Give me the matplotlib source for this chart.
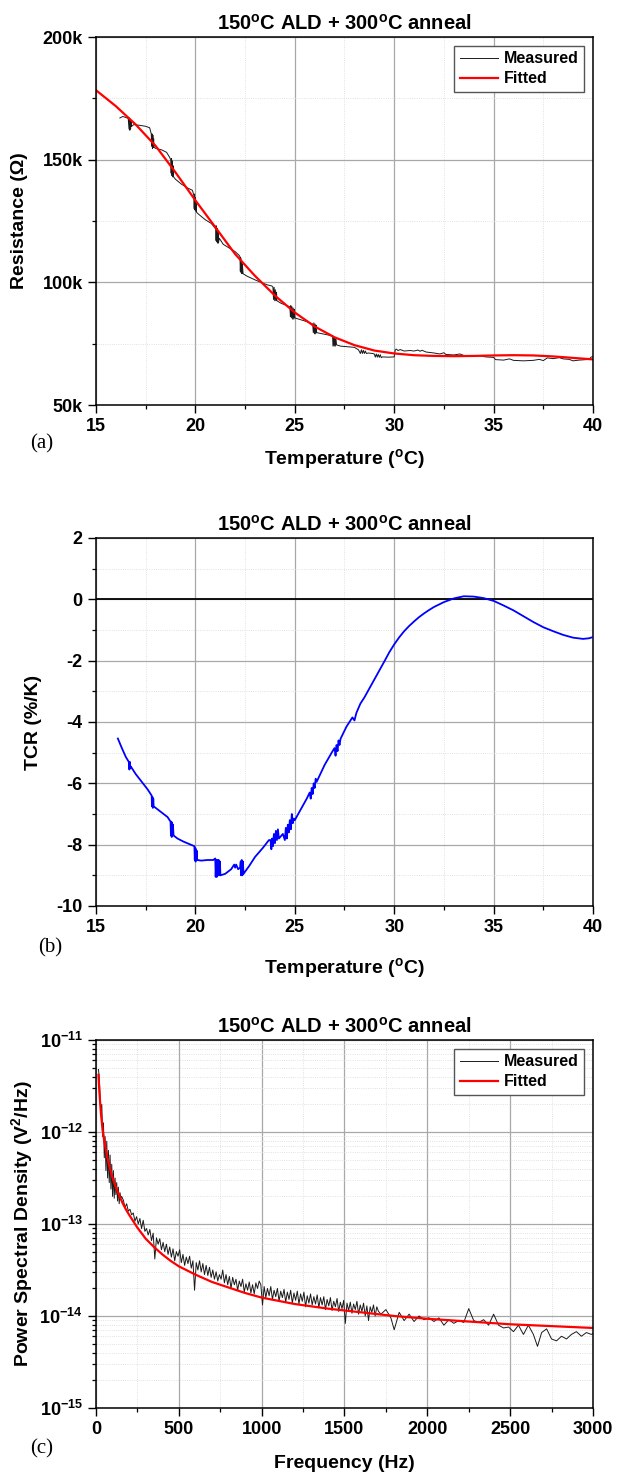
import numpy as np
import matplotlib
matplotlib.use("Agg")
import matplotlib.pyplot as plt
from matplotlib.ticker import MultipleLocator, FuncFormatter, LogLocator, NullFormatter

# ---------------- (a) resistance vs temperature ----------------
t_fit = [15, 16, 17, 18, 19, 20, 21, 22, 23, 24, 25, 26, 27, 28, 29, 30,
         31, 32, 33, 34, 35, 36, 37, 38, 39, 40]
r_fit = [178.3, 171.8, 164.3, 155.6, 144.8, 133.4, 122.5, 111.5, 102.6, 94.6,
         87.7, 82.0, 77.6, 74.4, 72.2, 71.0, 70.3, 70.0, 69.9, 70.0,
         70.2, 70.3, 70.2, 69.8, 69.2, 68.6]

t_meas = [16.2, 16.35, 16.5, 16.62, 16.66, 16.68, 16.7, 16.72, 16.74, 16.76, 16.78,
          16.9, 17.2, 17.5, 17.7, 17.78, 17.8, 17.82, 17.84, 17.86, 17.88, 17.9, 17.92,
          18.0, 18.3, 18.55, 18.7, 18.76, 18.78, 18.8, 18.82, 18.84, 18.86, 18.88, 18.9,
          19.0, 19.3, 19.6, 19.85, 19.92, 19.94, 19.96, 19.98, 20.0, 20.02, 20.04, 20.06,
          20.2, 20.5, 20.8, 21.0, 21.02, 21.04, 21.06, 21.08, 21.1, 21.12, 21.14, 21.16, 21.2,
          21.4, 21.7, 22.0, 22.2, 22.24, 22.26, 22.28, 22.3, 22.32, 22.34, 22.36, 22.4,
          22.6, 23.0, 23.3, 23.6, 23.85, 23.9, 23.93, 23.96, 23.99, 24.02, 24.05, 24.08, 24.1,
          24.3, 24.6, 24.75, 24.78, 24.8, 24.83, 24.86, 24.89, 24.92, 24.95, 24.98, 25.0,
          25.2, 25.6, 25.9, 25.93, 25.96, 25.99, 26.02, 26.05, 26.08, 26.1,
          26.4, 26.7, 26.9, 26.92, 26.95, 26.98, 27.01, 27.04, 27.07, 27.1,
          27.3, 27.6, 28.0, 28.2, 28.3, 28.35, 28.4, 28.45, 28.5, 28.55, 28.6, 28.7,
          28.9, 29.0, 29.05, 29.1, 29.15, 29.2, 29.25, 29.3, 29.35, 29.4, 29.7, 30.0,
          30.05, 30.1, 30.2, 30.3, 30.5, 30.8, 31.0, 31.2, 31.3, 31.4, 31.6, 32.0, 32.3,
          32.5, 32.6, 33.0, 33.3, 33.5, 34.0, 34.3, 34.6, 35.0, 35.1, 35.5, 35.8, 36.0,
          36.5, 37.0, 37.3, 37.5, 37.7, 38.0, 38.3, 38.5, 38.8, 39.0, 39.3, 39.5, 39.8,
          39.9, 40.0]
r_meas = [167.0, 167.6, 167.2, 166.8, 162.5, 167.0, 162.0, 166.5, 162.5, 166.0, 163.5,
          164.3, 164.0, 163.6, 163.0, 160.5, 155.5, 160.5, 154.5, 160.0, 155.0, 158.5, 155.0,
          154.6, 154.0, 153.0, 151.0, 150.0, 144.5, 150.5, 143.5, 149.5, 143.0, 147.5, 143.0,
          142.0, 140.0, 138.5, 137.5, 135.5, 130.0, 136.0, 129.5, 134.5, 129.0, 133.0, 128.5,
          127.5, 125.5, 124.0, 122.0, 123.0, 117.0, 123.0, 116.5, 122.0, 116.0, 121.0, 116.0, 118.0,
          115.5, 114.0, 112.5, 111.0, 110.5, 104.5, 110.0, 104.0, 109.0, 103.5, 107.5, 103.5,
          102.5, 101.0, 100.0, 99.0, 98.5, 98.0, 93.0, 98.0, 92.5, 97.0, 92.5, 96.0, 92.5,
          91.5, 90.5, 90.0, 86.0, 90.5, 85.5, 90.0, 85.0, 89.5, 85.0, 89.0, 85.5,
          85.0, 84.0, 83.0, 79.5, 83.5, 79.0, 83.0, 79.0, 82.5, 79.5,
          79.0, 78.5, 78.0, 74.0, 78.0, 74.0, 77.5, 74.0, 77.0, 74.5,
          74.0, 73.8, 73.5, 72.5, 71.0, 72.5, 71.0, 72.3, 71.0, 72.0, 71.0, 71.2,
          71.0, 70.8, 69.5, 70.8, 69.5, 70.6, 69.4, 70.5, 69.3, 69.6, 69.5, 69.6,
          72.3, 72.8, 72.2, 72.6, 72.0, 72.2, 72.0, 72.4, 71.9, 72.3, 71.6, 71.2, 70.8,
          71.3, 70.6, 70.4, 70.8, 70.2, 69.8, 70.1, 69.6, 69.4, 68.5, 68.3, 68.8, 68.2,
          68.0, 68.2, 68.6, 68.1, 69.2, 68.9, 69.3, 68.8, 68.6, 68.0, 68.3, 68.4, 68.6,
          69.5, 69.8]

# ---------------- (b) TCR vs temperature ----------------
t_tcr = [16.1, 16.3, 16.5, 16.65, 16.68, 16.7, 16.72, 16.75, 17.0, 17.3, 17.6, 17.8,
         17.82, 17.84, 17.86, 17.88, 17.9, 18.0, 18.3, 18.6, 18.75,
         18.77, 18.79, 18.81, 18.83, 18.85, 18.87, 18.9, 19.1, 19.4, 19.7, 19.95,
         19.97, 19.99, 20.01, 20.03, 20.05, 20.07, 20.09, 20.3, 20.6, 20.9, 21.0,
         21.02, 21.05, 21.08, 21.11, 21.14, 21.17, 21.2, 21.23, 21.26,
         21.5, 21.8, 21.95, 22.0, 22.05, 22.15, 22.25,
         22.28, 22.3, 22.33, 22.36, 22.39, 22.42, 22.7, 23.0, 23.4, 23.7,
         23.78, 23.82, 23.86, 23.9, 23.95, 24.0, 24.05, 24.1, 24.15, 24.2,
         24.4, 24.5, 24.55, 24.6, 24.65, 24.7, 24.75, 24.8, 24.85, 24.9, 24.95, 25.0,
         25.3, 25.6, 25.75, 25.8, 25.85, 25.9, 25.95, 26.0, 26.05, 26.1,
         26.5, 26.9, 27.0, 27.05, 27.1, 27.15, 27.2, 27.25, 27.3,
         27.6, 27.9, 28.0, 28.1, 28.3, 28.5, 28.8, 29.0, 29.25, 29.5, 29.75, 30.0,
         30.25, 30.5, 30.75, 31.0, 31.25, 31.5, 31.75, 32.0, 32.5, 33.0, 33.5, 34.0,
         34.5, 35.0, 35.5, 36.0, 36.5, 37.0, 37.5, 38.0, 38.5, 39.0, 39.5, 39.8, 40.0]
tcr = [-4.54, -4.85, -5.14, -5.3, -5.55, -5.3, -5.5, -5.45, -5.7, -5.95, -6.2, -6.4,
       -6.75, -6.45, -6.8, -6.5, -6.75, -6.8, -6.95, -7.1, -7.25,
       -7.7, -7.25, -7.75, -7.3, -7.7, -7.35, -7.7, -7.8, -7.9, -7.98, -8.05,
       -8.5, -8.1, -8.55, -8.15, -8.5, -8.2, -8.5, -8.52, -8.5, -8.5, -8.45,
       -9.05, -8.5, -9.05, -8.5, -9.0, -8.5, -9.0, -8.55, -9.0,
       -8.95, -8.8, -8.65, -8.75, -8.65, -8.8, -8.75,
       -8.55, -9.0, -8.5, -9.0, -8.55, -8.95, -8.7, -8.4, -8.1, -7.85,
       -7.85, -8.15, -7.8, -8.05, -7.65, -7.95, -7.55, -7.85, -7.5, -7.8,
       -7.65, -7.85, -7.45, -7.8, -7.35, -7.6, -7.2, -7.5, -7.0, -7.3, -7.15, -7.2,
       -6.85, -6.5, -6.3, -6.5, -6.15, -6.35, -6.0, -6.15, -5.85, -5.95,
       -5.4, -4.95, -4.85, -5.1, -4.75, -4.95, -4.6, -4.75, -4.55,
       -4.15, -3.85, -3.95, -3.7, -3.4, -3.2, -2.85, -2.62, -2.33, -2.03, -1.73, -1.47,
       -1.24, -1.04, -0.87, -0.72, -0.58, -0.46, -0.35, -0.25, -0.09, 0.03, 0.1, 0.09,
       0.04, -0.05, -0.2, -0.36, -0.55, -0.74, -0.91, -1.04, -1.16, -1.25, -1.29,
       -1.27, -1.23]

# ---------------- (c) noise PSD ----------------
f_fit = [15, 20, 25, 30, 40, 50, 60, 70, 80, 100, 120, 140, 160, 180, 200, 250,
         300, 350, 400, 450, 500, 600, 700, 800, 900, 1000, 1200, 1400, 1600, 1800,
         2000, 2250, 2500, 2750, 3000]
psd_fit_exp = [-11.38, -11.55, -11.68, -11.8, -11.98, -12.1, -12.2, -12.29, -12.37,
               -12.5, -12.6, -12.69, -12.77, -12.84, -12.9, -13.04, -13.16, -13.25,
               -13.33, -13.4, -13.46, -13.55, -13.63, -13.69, -13.75, -13.8, -13.87,
               -13.92, -13.96, -14.0, -14.03, -14.06, -14.09, -14.11, -14.13]

f_meas = [15, 20, 25, 30, 35, 40, 45, 50, 55, 60, 65, 70, 75, 80, 85, 90, 95, 100,
          105, 110, 115, 120, 125, 130, 135, 140, 145, 150,
          155, 165, 175, 185, 195, 205, 215, 225, 235, 245, 255, 265, 275, 285, 295,
          305, 315, 325, 335, 345, 355, 365, 375, 385, 395, 405, 415, 425, 435, 445,
          455, 465, 475, 485, 495, 505, 515, 525, 535, 545, 555, 565, 575, 585, 595,
          605, 615, 625, 635, 645, 655, 665, 675, 685, 695, 705, 715, 725, 735, 745,
          755, 765, 775, 785, 795, 805, 815, 825, 835, 845, 855, 865, 875, 885, 895,
          905, 915, 925, 935, 945, 955, 965, 975, 985, 995, 1005, 1015, 1025, 1035,
          1045, 1055, 1065, 1075, 1085, 1095, 1105, 1115, 1125, 1135, 1145, 1155,
          1165, 1175, 1185, 1195, 1205, 1215, 1225, 1235, 1245, 1255, 1265, 1275,
          1285, 1295, 1305, 1315, 1325, 1335, 1345, 1355, 1365, 1375, 1385, 1395,
          1405, 1415, 1425, 1435, 1445, 1455, 1465, 1475, 1485, 1495, 1505, 1515,
          1525, 1535, 1545, 1555, 1565, 1575, 1585, 1595, 1605, 1615, 1625, 1635,
          1645, 1655, 1665, 1675, 1685, 1695, 1705,
          1720, 1750, 1780, 1800, 1830, 1860, 1890, 1920, 1950, 1980, 2010, 2040,
          2070, 2100, 2130, 2160, 2190, 2220, 2250, 2280, 2310, 2340, 2370, 2400,
          2430, 2460, 2490, 2520, 2550, 2580, 2610, 2640, 2665, 2690, 2720, 2750,
          2780, 2810, 2840, 2870, 2900, 2930, 2960, 2990, 3000]
psd_meas_exp = [-11.32, -11.42, -11.62, -11.78, -11.7, -12.05, -11.9, -12.28, -12.05,
                -12.42, -12.1, -12.5, -12.2, -12.55, -12.25, -12.62, -12.35, -12.7,
                -12.42, -12.72, -12.5, -12.68, -12.55, -12.75, -12.6, -12.78, -12.66,
                -12.72,
                -12.7, -12.74, -12.82, -12.78, -12.86, -12.84, -12.9, -12.88, -12.97,
                -12.92, -13.0, -12.94, -13.05, -12.96, -13.08, -13.05, -13.12, -13.06,
                -13.18, -13.1, -13.38, -13.15, -13.22, -13.16, -13.28, -13.2, -13.3,
                -13.22, -13.33, -13.25, -13.36, -13.27, -13.4, -13.3, -13.35, -13.28,
                -13.42, -13.33, -13.45, -13.36, -13.43, -13.35, -13.48, -13.4, -13.72,
                -13.42, -13.5, -13.4, -13.52, -13.43, -13.55, -13.45, -13.56, -13.47,
                -13.58, -13.5, -13.6, -13.52, -13.62, -13.55, -13.6, -13.5, -13.64,
                -13.55, -13.66, -13.57, -13.7, -13.58, -13.66, -13.6, -13.72, -13.62,
                -13.68, -13.6, -13.74, -13.65, -13.72, -13.63, -13.75, -13.66, -13.76,
                -13.64, -13.7, -13.62, -13.66, -13.88, -13.68, -13.8, -13.7, -13.78,
                -13.68, -13.82, -13.72, -13.79, -13.7, -13.84, -13.73, -13.8, -13.71,
                -13.85, -13.74, -13.82, -13.72, -13.86, -13.75, -13.83, -13.73, -13.87,
                -13.76, -13.84, -13.74, -13.9, -13.78, -13.86, -13.76, -13.88, -13.79,
                -13.87, -13.77, -13.91, -13.8, -13.88, -13.79, -13.93, -13.82, -13.89,
                -13.8, -13.94, -13.84, -13.9, -13.81, -13.95, -13.85, -13.92, -13.83,
                -14.08, -13.86, -13.94, -13.85, -13.97, -13.87, -13.93, -13.84, -13.98,
                -13.88, -13.95, -13.86, -14.0, -13.89, -14.05, -13.9, -13.96, -13.88,
                -14.0, -13.9, -13.95,
                -13.98, -13.93, -14.02, -14.15, -13.96, -14.05, -13.98, -14.06, -14.0,
                -14.04, -14.02, -14.06, -14.02, -14.1, -14.04, -14.08, -14.05, -14.07,
                -13.92, -14.05, -14.07, -14.04, -14.1, -13.98, -14.1, -14.13, -14.12,
                -14.17, -14.1, -14.2, -14.1, -14.2, -14.33, -14.18, -14.14, -14.25,
                -14.27, -14.22, -14.25, -14.2, -14.17, -14.22, -14.18, -14.2, -14.19]

TITLE = r"150$^{\mathdefault{o}}$C ALD + 300$^{\mathdefault{o}}$C anneal"

plt.rcParams["font.family"] = ["Liberation Sans", "DejaVu Sans"]
plt.rcParams["font.weight"] = "bold"
plt.rcParams["axes.labelweight"] = "bold"
plt.rcParams["axes.titleweight"] = "bold"
plt.rcParams["mathtext.default"] = "regular"
plt.rcParams["axes.unicode_minus"] = False

W, H = 618, 1474
fig = plt.figure(figsize=(W / 100, H / 100), dpi=100)

AX_L, AX_W, AX_H = 96, 497, 368


def make_axes(top_px):
    return fig.add_axes([AX_L / W, 1 - (top_px + AX_H) / H, AX_W / W, AX_H / H])


def style(ax, ylab_off, xlab_off):
    for sp in ax.spines.values():
        sp.set_linewidth(1.1)
        sp.set_color("black")
    ax.tick_params(which="major", direction="out", length=6, width=1.0,
                   labelsize=13, pad=3.5, top=False, right=False)
    ax.tick_params(which="minor", direction="out", length=3, width=0.9,
                   top=False, right=False)
    ax.grid(True, which="major", color="#a8a8a8", linewidth=0.9)
    ax.grid(True, which="minor", color="#d8d8d8", linewidth=0.6, linestyle=":")
    ax.set_axisbelow(True)
    ax.set_title(TITLE, fontsize=14.5, pad=5)
    ax.yaxis.set_label_coords(-ylab_off / AX_W, 0.5)
    ax.yaxis.label.set_va("center")
    ax.xaxis.set_label_coords(0.5, -xlab_off / AX_H)
    ax.xaxis.label.set_va("center")


def add_legend(ax):
    leg = ax.legend(loc="upper right", fontsize=11.5, frameon=True, fancybox=False,
                    edgecolor="#555555", framealpha=1, borderaxespad=0.55,
                    borderpad=0.35, labelspacing=0.3, handlelength=2.4,
                    handletextpad=0.35)
    leg.get_frame().set_linewidth(1.0)


# ---- (a)
ax1 = make_axes(37)
ax1.plot(t_meas, r_meas, color="#1a1a1a", linewidth=0.7, label="Measured")
ax1.plot(t_fit, r_fit, color="#ff0000", linewidth=1.6, label="Fitted")
ax1.set_xlim(15, 40)
ax1.set_ylim(50, 200)
ax1.xaxis.set_major_locator(MultipleLocator(5))
ax1.xaxis.set_minor_locator(MultipleLocator(2.5))
ax1.yaxis.set_major_locator(MultipleLocator(50))
ax1.yaxis.set_minor_locator(MultipleLocator(25))
ax1.yaxis.set_major_formatter(FuncFormatter(lambda v, p: f"{v:g}k"))
ax1.set_xlabel(r"Temperature ($^{\mathdefault{o}}$C)", fontsize=14)
ax1.set_ylabel("Resistance (Ω)", fontsize=14)
style(ax1, 76, 54)
add_legend(ax1)

# ---- (b)
ax2 = make_axes(538)
ax2.axhline(0, color="black", linewidth=1.3, zorder=2)
ax2.plot(t_tcr, tcr, color="#0000ff", linewidth=1.3, zorder=3)
ax2.set_xlim(15, 40)
ax2.set_ylim(-10, 2)
ax2.xaxis.set_major_locator(MultipleLocator(5))
ax2.xaxis.set_minor_locator(MultipleLocator(2.5))
ax2.yaxis.set_major_locator(MultipleLocator(2))
ax2.yaxis.set_minor_locator(MultipleLocator(1))
ax2.set_xlabel(r"Temperature ($^{\mathdefault{o}}$C)", fontsize=14)
ax2.set_ylabel("TCR (%/K)", fontsize=14)
style(ax2, 62, 62)

# ---- (c)
ax3 = make_axes(1040)
ax3.plot(f_meas, 10 ** np.array(psd_meas_exp), color="#1a1a1a", linewidth=0.7,
         label="Measured")
ax3.plot(f_fit, 10 ** np.array(psd_fit_exp), color="#ff0000", linewidth=1.6,
         label="Fitted")
ax3.set_yscale("log")
ax3.set_xlim(0, 3000)
ax3.set_ylim(1e-15, 1e-11)
ax3.xaxis.set_major_locator(MultipleLocator(500))
ax3.xaxis.set_minor_locator(MultipleLocator(250))
ax3.yaxis.set_major_locator(LogLocator(base=10, numticks=10))
ax3.yaxis.set_minor_locator(LogLocator(base=10, subs=np.arange(2, 10), numticks=10))
ax3.yaxis.set_minor_formatter(NullFormatter())
ax3.yaxis.set_major_formatter(FuncFormatter(
    lambda v, p: r"$\mathdefault{10^{%d}}$" % round(np.log10(v))))
ax3.set_xlabel("Frequency (Hz)", fontsize=14)
ax3.set_ylabel(r"Power Spectral Density (V$^{\mathdefault{2}}$/Hz)", fontsize=14)
style(ax3, 74, 55)
add_legend(ax3)

# panel letters
for lab, xp, yp in [("(a)", 42, 444), ("(b)", 50, 948), ("(c)", 42, 1449)]:
    fig.text(xp / W, 1 - yp / H, lab, family="Liberation Serif", fontweight="normal",
             fontsize=15, ha="center", va="center")

fig.savefig("out.png", dpi=100)
